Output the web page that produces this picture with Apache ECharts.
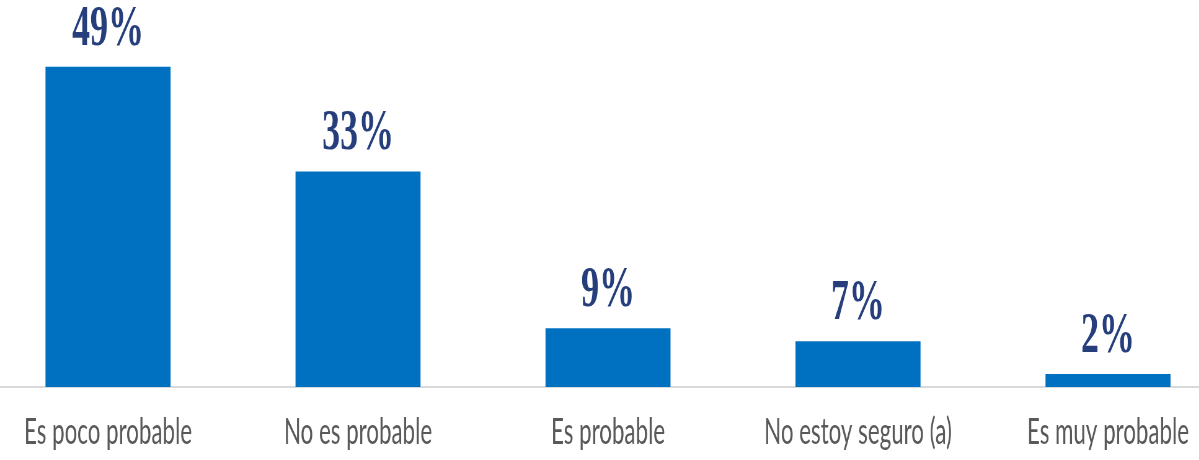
<!DOCTYPE html>
<html>
<head>
<meta charset="utf-8">
<script src="https://cdn.jsdelivr.net/npm/echarts@6/dist/echarts.min.js"></script>
<style>
  html, body { margin: 0; padding: 0; background: #ffffff; }
  #wrap { width: 1199px; height: 460px; overflow: hidden; position: relative; }
  /* the chart is laid out wide and squeezed horizontally to get narrow lettering */
  #chart { height: 460px; transform-origin: 0 0; }
</style>
</head>
<body>
<div id="wrap"><div id="chart"></div></div>
<script>
const categories = ['Es poco probable', 'No es probable', 'Es probable', 'No estoy seguro (a)', 'Es muy probable'];
const values = [49, 33, 9, 7, 2];

const squeeze = 0.62;
const el = document.getElementById('chart');
el.style.width = Math.round(1199 / squeeze) + 'px';
el.style.transform = 'scaleX(' + squeeze + ')';

const chart = echarts.init(el, null, { renderer: 'canvas' });
chart.setOption({
  animation: false,
  backgroundColor: '#ffffff',
  grid: {
    left: -17 / squeeze,
    width: 1250 / squeeze,
    top: -5,
    bottom: 73,
    containLabel: false,
    outerBoundsMode: 'none'
  },
  xAxis: {
    type: 'category',
    data: categories,
    axisLine: { show: true, lineStyle: { color: '#d9d9d9', width: 2 } },
    axisTick: { show: false },
    axisLabel: {
      color: '#595959',
      fontFamily: 'Lato',
      fontSize: 36,
      lineHeight: 36,
      margin: 27,
      interval: 0
    }
  },
  yAxis: { type: 'value', min: 0, max: 60, show: false, splitLine: { show: false } },
  series: [{
    type: 'bar',
    data: values,
    barWidth: 125 / squeeze,
    itemStyle: { color: '#0070c0' },
    label: {
      show: true,
      position: 'top',
      distance: 8,
      formatter: p => p.value + '%',
      color: '#263f7c',
      fontFamily: 'Liberation Serif',
      fontWeight: 'bold',
      fontSize: 58,
      lineHeight: 58
    }
  }]
});
</script>
</body>
</html>
